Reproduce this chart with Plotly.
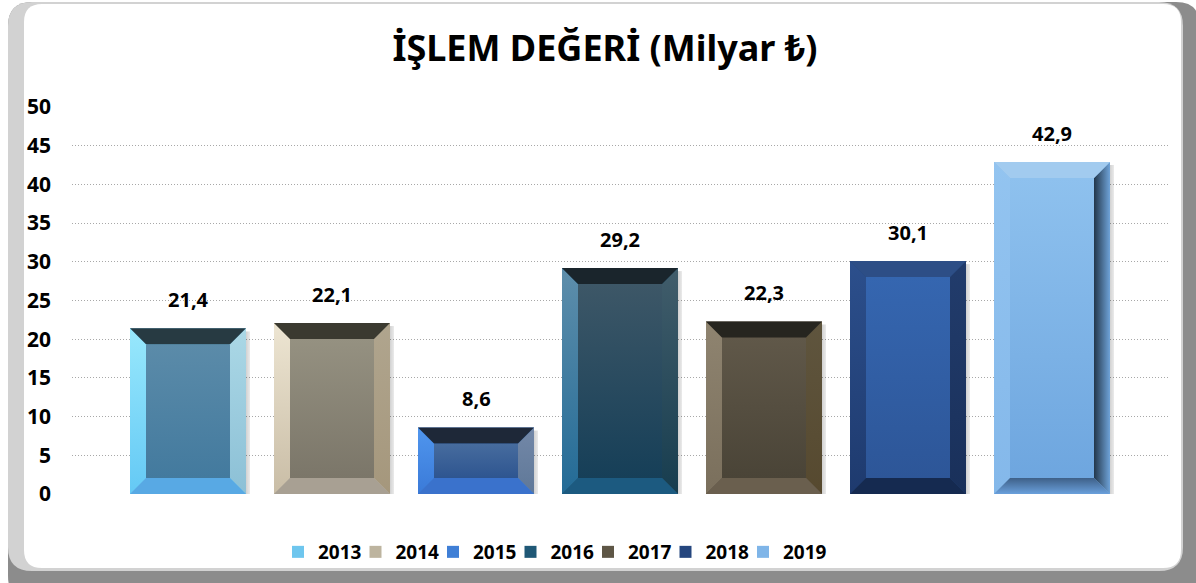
import plotly.graph_objects as go

# data
years = ['2013', '2014', '2015', '2016', '2017', '2018', '2019']
values = [21.4, 22.1, 8.6, 29.2, 22.3, 30.1, 42.9]
y_ticks = [0, 5, 10, 15, 20, 25, 30, 35, 40, 45, 50]
title_text = 'İŞLEM DEĞERİ (Milyar ₺)'

# bevel colours per year: top, left(bottom->top), right(bottom->top), bottom, face(bottom->top)
styles = {
    '2013': dict(top='#273a42', left=('#64c9f5', '#98e8fc'), right=('#8cc0d6', '#abd8e6'),
                 bottom='#58a9e4', face=('#437a9e', '#5b8ba9'), legend='#6ec6ee'),
    '2014': dict(top='#3b3a30', left=('#c9bda6', '#ede5d2'), right=('#a5977c', '#b0a58e'),
                 bottom='#a8a093', face=('#7b7669', '#959181'), legend='#bdb49f'),
    '2015': dict(top='#1e2838', left=('#3a7ad8', '#5096ee'), right=('#5f7898', '#7388a8'),
                 bottom='#3a72cc', face=('#2e5590', '#476c9e'), legend='#3f7fd6'),
    '2016': dict(top='#1a252c', left=('#236b96', '#5e8eab'), right=('#173d4f', '#415d6b'),
                 bottom='#1c5a80', face=('#163f58', '#3d5767'), legend='#1f5876'),
    '2017': dict(top='#26251f', left=('#7a6f5c', '#8f8470'), right=('#56492f', '#5f553e'),
                 bottom='#6a5f4e', face=('#4a4437', '#605849'), legend='#5e5646'),
    '2018': dict(top='#2d4e86', left=('#1e3a6e', '#2c4f8c'), right=('#19305a', '#223c6c'),
                 bottom='#152a50', face=('#2d5698', '#3566b0'), legend='#25467e'),
    '2019': dict(top='#a2cbef', left=('#84b8ea', '#93c4f0'), right=('#22364a', '#6fa3d8'),
                 bottom=('#6aa0dc', '#3e6088'), face=('#6ea6df', '#8ec1ee'), legend='#7fb5e8'),
}

FONT = 'Noto Sans'
W, H = 1196, 583
ML, MR, MT, MB = 72, 28, 107, 89
PW, PH = W - ML - MR, H - MT - MB
YMAX = 50
px_per_x = 144.0
px_per_y = PH / YMAX
x_pad = (PW / px_per_x - len(years)) / 2
hw = 116 / px_per_x / 2
dx = 16 / px_per_x
dy = 16 / px_per_y
sh = 4 / px_per_x  # side shadow width

fig = go.Figure()

for i, (yr, v) in enumerate(zip(years, values)):
    fig.add_trace(go.Bar(x=[i], y=[v], name=yr, width=2 * hw,
                         marker=dict(color=styles[yr]['legend'], line_width=0),
                         legendwidth=50 if i == len(years) - 1 else None,
                         hoverinfo='skip'))


def poly(xs, ys, color, grad=None):
    kw = dict(x=xs + [xs[0]], y=ys + [ys[0]], mode='lines', fill='toself',
              line=dict(width=0), showlegend=False, hoverinfo='skip')
    if isinstance(color, tuple):
        kw['fillgradient'] = dict(type=grad or 'vertical',
                                  colorscale=[[0, color[0]], [1, color[1]]])
        kw['fillcolor'] = color[1]
    else:
        kw['fillcolor'] = color
    fig.add_trace(go.Scatter(**kw))


for i, (yr, v) in enumerate(zip(years, values)):
    s = styles[yr]
    L, R, B, T = i - hw, i + hw, 0, v
    l, r, b, t = L + dx, R - dx, B + dy, T - dy
    poly([R, R + sh, R + sh, R], [B, B, T - 0.4, T - 0.4], ('rgba(0,0,0,0.18)', 'rgba(0,0,0,0.08)'),
         'horizontal')
    poly([l, r, r, l], [b, b, t, t], s['face'])
    poly([L, l, l, L], [B, b, t, T], s['left'])
    poly([R, r, r, R], [B, b, t, T], s['right'], 'horizontal' if yr == '2019' else 'vertical')
    poly([L, R, r, l], [T, T, t, t], s['top'])
    poly([L, R, r, l], [B, B, b, b], s['bottom'])

annotations = []
for i, v in enumerate(values):
    annotations.append(dict(x=i, y=v, xref='x', yref='y', text=f'{v:.1f}'.replace('.', ','),
                            showarrow=False, yanchor='bottom', yshift=13,
                            font=dict(family=FONT, size=20, color='black', weight='bold')))


def px2x(px):
    return (px - ML) / PW


def py2y(py):
    return (MT + PH - py) / PH


def rounded(x0, y0, x1, y1, rad):
    rx, ry = rad / PW, rad / PH
    a0, a1, b0, b1 = px2x(x0), px2x(x1), py2y(y1), py2y(y0)
    return (f'M{a0 + rx},{b1} L{a1 - rx},{b1} Q{a1},{b1} {a1},{b1 - ry} '
            f'L{a1},{b0 + ry} Q{a1},{b0} {a1 - rx},{b0} L{a0 + rx},{b0} '
            f'Q{a0},{b0} {a0},{b0 + ry} L{a0},{b1 - ry} Q{a0},{b1} {a0 + rx},{b1} Z')


shapes = [
    dict(type='path', xref='paper', yref='paper', layer='below', line_width=0,
         fillcolor='#8c8c8c', path=rounded(8, 2, 1200, 600, 24)),
    dict(type='path', xref='paper', yref='paper', layer='below', line_width=0,
         fillcolor='#d2d2d2', path=rounded(8, 2, 1183, 571, 24)),
    dict(type='path', xref='paper', yref='paper', layer='below', line_width=0,
         fillcolor='white', path=rounded(24, 4, 1181, 568, 18)),
]

fig.update_layout(
    width=W, height=H,
    margin=dict(l=ML, r=MR, t=MT, b=MB),
    paper_bgcolor='white', plot_bgcolor='rgba(0,0,0,0)',
    barmode='overlay',
    showlegend=True,
    title=dict(text=title_text, x=605 / W, xanchor='center', y=1 - 48 / H, yanchor='middle',
               yref='container',
               font=dict(family=FONT, size=36, color='black', weight='bold')),
    xaxis=dict(range=[-0.5 - x_pad, len(years) - 0.5 + x_pad], showticklabels=False,
               showgrid=False, zeroline=False, fixedrange=True),
    yaxis=dict(range=[0, YMAX], tickvals=y_ticks, showgrid=True, gridcolor='#a8a8a8',
               griddash='1px,2px', gridwidth=1, zeroline=False, ticks='', ticklabelstandoff=20,
               tickfont=dict(family=FONT, size=21, color='black', weight='bold')),
    legend=dict(orientation='h', x=px2x(278), xanchor='left', y=py2y(552), yanchor='middle',
                entrywidth=32.5, entrywidthmode='pixels', bgcolor='rgba(0,0,0,0)',
                font=dict(family=FONT, size=19, color='black', weight='bold'),
                itemclick=False, itemdoubleclick=False),
    annotations=annotations,
    shapes=shapes,
)

fig.write_html('out.html', config={'displayModeBar': False},
               post_script="document.body.style.margin='0px';")
